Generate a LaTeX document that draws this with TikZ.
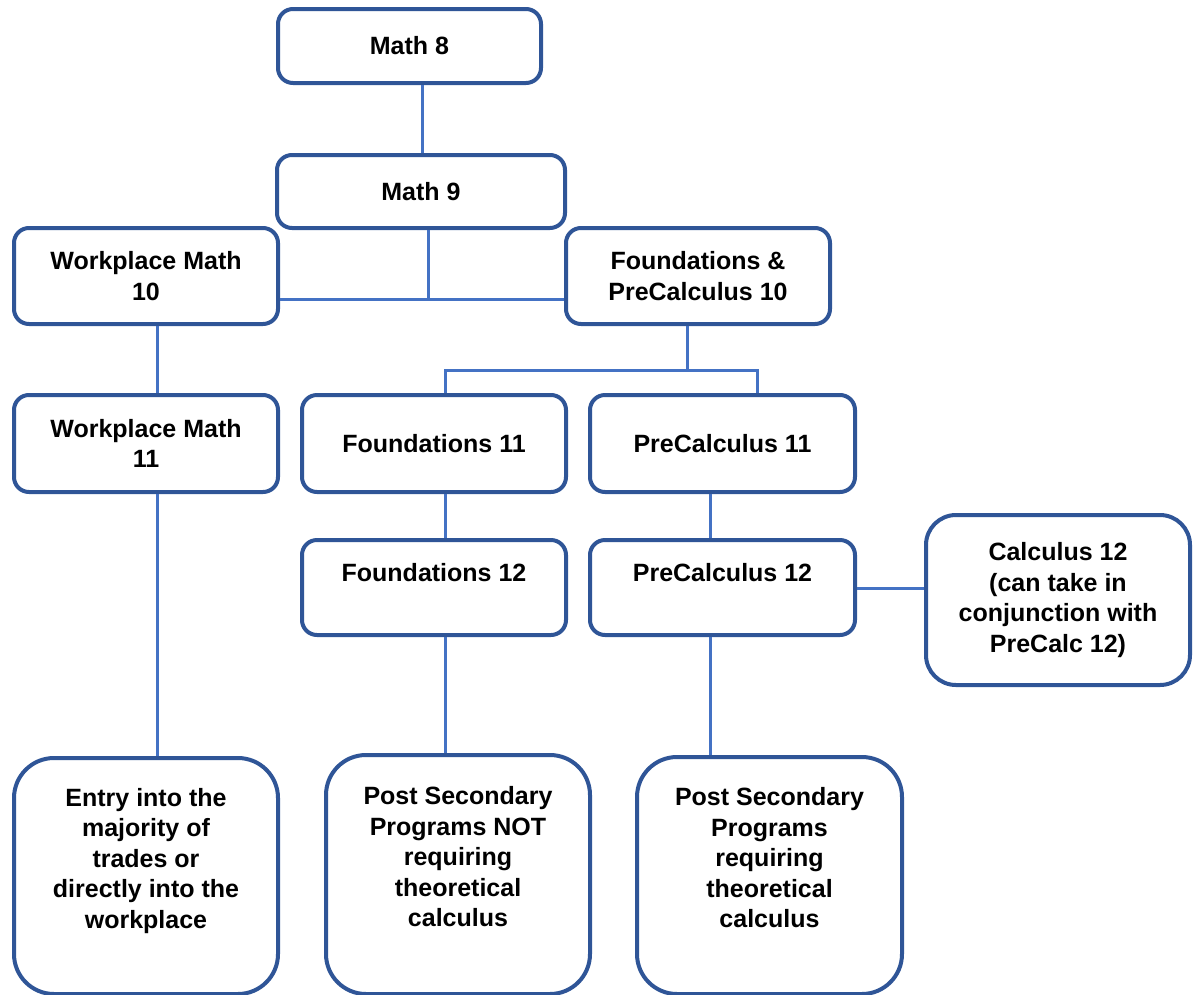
\documentclass[tikz,border=0pt]{standalone}
\usepackage{fontspec}
\setmainfont{Liberation Sans}
\definecolor{boxblue}{RGB}{47,85,151}
\definecolor{lineblue}{RGB}{68,114,196}
\begin{document}
\begin{tikzpicture}[x=1pt,y=-1pt,
  box/.style={draw=boxblue, line width=4pt, fill=white, rounded corners=15pt,
    align=center, inner sep=0pt,
    font=\fontsize{25}{30.5}\selectfont\bfseries},
  tallbox/.style={box, rounded corners=40pt},
  conn/.style={draw=lineblue, line width=3pt}]
\useasboundingbox (0,0) rectangle (1200,994);

\node[box, minimum width=263pt, minimum height=74pt] (m8) at (409.5,46) {Math 8};
\node[box, minimum width=288pt, minimum height=73pt] (m9) at (421,191.5) {Math 9};
\node[box, minimum width=264pt, minimum height=96pt] (wm10) at (146,276) {Workplace Math\\10};
\node[box, minimum width=264pt, minimum height=96pt] (fp10) at (698,276) {Foundations \&\\PreCalculus 10};
\node[box, minimum width=264pt, minimum height=97pt] (wm11) at (146,443.5) {Workplace Math\\11};
\node[box, minimum width=264pt, minimum height=97pt] (f11) at (434,443.5) {Foundations 11};
\node[box, minimum width=265pt, minimum height=97pt] (p11) at (722.5,443.5) {PreCalculus 11};
\node[box, minimum width=264pt, minimum height=95pt] (f12) at (434,587.5) {Foundations 12\\[-10pt]\strut};
\node[box, minimum width=265pt, minimum height=95pt] (p12) at (722.5,587.5) {PreCalculus 12\\[-10pt]\strut};
\node[box, rounded corners=30pt, minimum width=264pt, minimum height=170pt] (calc) at (1058,600) {Calculus 12\\(can take in\\conjunction with\\PreCalc 12)};
\node[tallbox, minimum width=264pt, minimum height=236pt] (entry) at (146,876) {Entry into the\\majority of\\trades or\\directly into the\\workplace\\[-4pt]\strut};
\node[tallbox, minimum width=264pt, minimum height=239pt] (pnot) at (458,874.5) {Post Secondary\\Programs NOT\\requiring\\theoretical\\calculus\\[-4pt]\strut};
\node[tallbox, minimum width=265pt, minimum height=237pt] (preq) at (769.5,875.5) {Post Secondary\\Programs\\requiring\\theoretical\\calculus\\[-4pt]\strut};

\coordinate (ka) at (422,0);
\coordinate (kb) at (428,299);
\coordinate (kc) at (687,370);
\coordinate (kd) at (445,0);
\coordinate (ke) at (757,0);
\coordinate (kf) at (157,0);
\coordinate (kg) at (710,0);
\coordinate (kh) at (0,588);

\draw[conn] (ka |- m8.south) -- (ka |- m9.north);
\draw[conn] (kb |- m9.south) -- (kb);
\draw[conn] (wm10.east |- kb) -- (fp10.west |- kb);
\draw[conn] (kc |- fp10.south) -- (kc);
\draw[conn] (kd |- f11.north) |- (ke |- kc) -- (ke |- p11.north);
\draw[conn] (kf |- wm10.south) -- (kf |- wm11.north);
\draw[conn] (kf |- wm11.south) -- (kf |- entry.north);
\draw[conn] (kd |- f11.south) -- (kd |- f12.north);
\draw[conn] (kd |- f12.south) -- (kd |- pnot.north);
\draw[conn] (kg |- p11.south) -- (kg |- p12.north);
\draw[conn] (kg |- p12.south) -- (kg |- preq.north);
\draw[conn] (p12.east |- kh) -- (calc.west |- kh);
\end{tikzpicture}
\end{document}
